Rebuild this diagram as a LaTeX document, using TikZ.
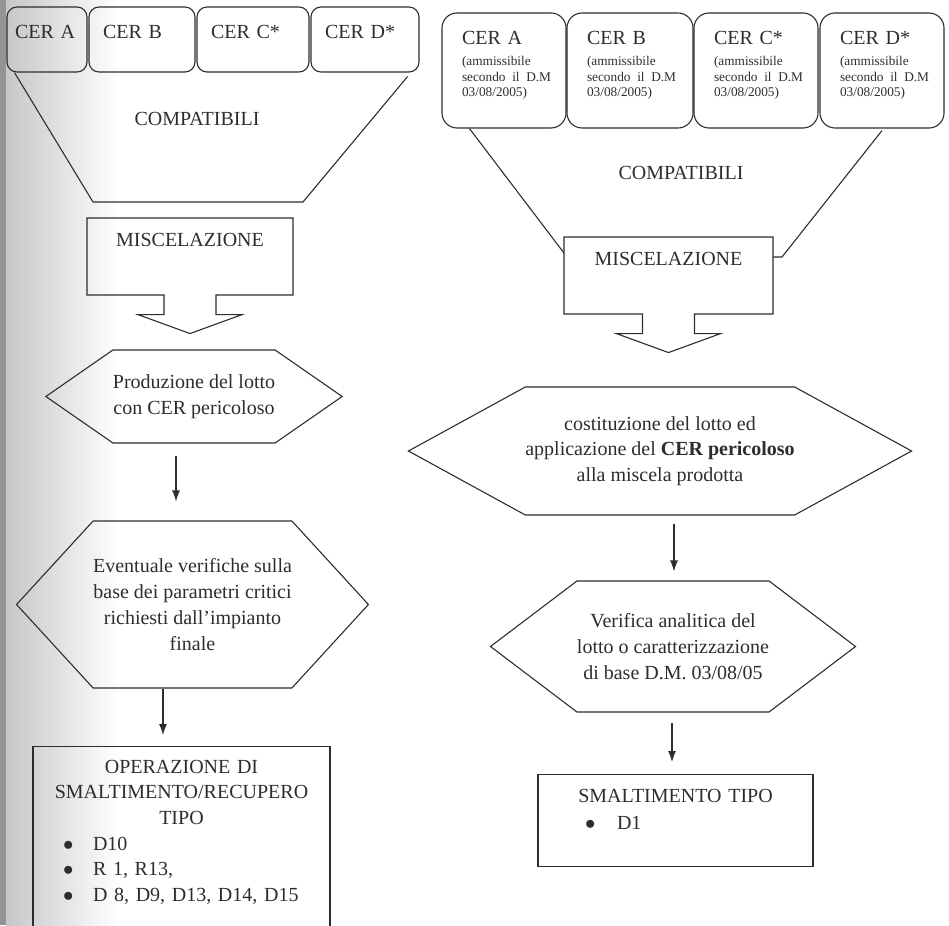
\documentclass[tikz,border=0pt]{standalone}
\usepackage{fontspec}
\setmainfont{Liberation Serif}
\usetikzlibrary{shapes.symbols,shapes.arrows,arrows.meta}
\definecolor{InkGray}{RGB}{45,45,45}
\newcommand{\ammdm}{{\fontsize{13.3}{15.5}\selectfont
    \begin{tabular}[t]{@{}l@{}}(ammissibile\\secondo il D.M\\03/08/2005)\end{tabular}}}
\newcommand{\opbullet}{\hspace*{30pt}\makebox[30pt][l]{$\bullet$}}

\begin{document}
\begin{tikzpicture}[x=1pt,y=-1pt,line width=1.1pt,color=InkGray,font=\fontsize{20}{25.7}\selectfont]
\tikzstyle{cerbox} = [rectangle, draw, rounded corners=10pt, inner xsep=14pt, inner ysep=0pt,
    align=left, text height=31.6pt, text depth=33.4pt]
\tikzstyle{cerbig} = [rectangle, draw, rounded corners=15pt, inner xsep=20pt, inner ysep=0pt,
    align=left, text height=32pt, text depth=83pt]
\tikzstyle{mixbox} = [arrow box, draw, arrow box arrows={south:38pt from border},
    arrow box shaft width=52pt, arrow box head extend=26pt, arrow box head indent=0pt,
    arrow box tip angle=140, inner ysep=0pt, text height=28.5pt, text depth=48.5pt]
\tikzstyle{hexa} = [signal, signal to=east and west, draw, align=center, inner sep=0pt]
\tikzstyle{endbox} = [rectangle, draw, inner sep=0pt, align=left, anchor=north]
\tikzstyle{line} = [draw, -{Latex[length=11pt,width=8pt]}]

\useasboundingbox (0,0) rectangle (949,925);
\clip (0,0) rectangle (949,925);
% binding shadow of the scan
\fill [black!42] (0,0) rectangle (6,925);
\shade [left color=black!22, right color=white] (6,0) rectangle (118,925);

% left: CER boxes
\node [cerbox, inner xsep=8pt, text width=64pt] (lA) at (47,39.5) {CER~A};
\node [cerbox, right of=lA, node distance=95pt, text width=78pt] (lB) {CER~B};
\node [cerbox, right of=lB, node distance=111pt, text width=84pt] (lC) {CER~C*};
\node [cerbox, right of=lC, node distance=112pt, text width=80pt] (lD) {CER~D*};
\coordinate (lf1) at ([xshift=8pt]lA.south west);
\coordinate (lf2) at (93,202);
\coordinate (lf3) at (303,202);
\coordinate (lf4) at ([xshift=-12pt,yshift=-4pt]lD.south east);
\draw (lf1) -- (lf2) -- (lf3) -- (lf4);
\node (lcomp) at (197,119) {COMPATIBILI};
%
\node [mixbox, minimum width=206pt] (lmix) at (190,256.5) {MISCELAZIONE};
\node [hexa, below of=lmix, node distance=140pt, xshift=4pt, minimum width=280pt,
    minimum height=93pt, signal pointer angle=69.5] (lhex1) {Produzione del lotto\\con CER pericoloso};
\node [hexa, below of=lhex1, node distance=208pt, xshift=-1.5pt, minimum width=329pt,
    minimum height=167pt, signal pointer angle=95] (lhex2)
    {Eventuale verifiche sulla\\base dei parametri critici\\richiesti dall'impianto\\finale};
\node [endbox, text width=297pt, text height=26.5pt, text depth=170pt] (lop) at (181.5,746)
    {{\centering OPERAZIONE DI\\SMALTIMENTO/RECUPERO\\TIPO\par}
    \opbullet D10\\
    \opbullet R 1, R13,\\
    \opbullet D 8, D9, D13, D14, D15};
\path [line] ([xshift=-18pt,yshift=-12pt]lhex1.south) -- ([xshift=-16.5pt,yshift=19pt]lhex2.north);
\path [line] ([xshift=-29.5pt]lhex2.south) -- ([xshift=-18.5pt,yshift=11pt]lop.north);

% right: CER boxes
\node [cerbig, text width=84pt] (rA) at (504,70.5) {CER~A\\[-4.7pt]\ammdm};
\node [cerbig, right of=rA, node distance=126pt, text width=86pt] (rB) {CER~B\\[-4.7pt]\ammdm};
\node [cerbig, right of=rB, node distance=126pt, text width=84pt] (rC) {CER~C*\\[-4.7pt]\ammdm};
\node [cerbig, right of=rC, node distance=126pt, text width=84pt] (rD) {CER~D*\\[-4.7pt]\ammdm};
\coordinate (rf1) at ([xshift=28pt]rA.south west);
\coordinate (rf2) at (567,257);
\coordinate (rf3) at (782,257);
\coordinate (rf4) at ([yshift=-2pt]rD.south);
\draw (rf1) -- (rf2) -- (rf3) -- (rf4);
\node (rcomp) at (681,173) {COMPATIBILI};
%
\node [mixbox, fill=white, minimum width=209pt] (rmix) at (668.5,275.5) {MISCELAZIONE};
\node [hexa, minimum width=476pt, minimum height=128pt, signal pointer angle=57.4] (rhex1) at (660,451)
    {costituzione del lotto ed\\applicazione del \textbf{CER pericoloso}\\alla miscela prodotta};
\node [hexa, below of=rhex1, node distance=195.5pt, xshift=13pt, minimum width=352pt,
    minimum height=131pt, signal pointer angle=74.3] (rhex2)
    {Verifica analitica del\\lotto o caratterizzazione\\di base D.M. 03/08/05};
\node [endbox, text width=275pt, text height=27.5pt, text depth=64.5pt] (rsmalt) at (675.5,774)
    {{\centering SMALTIMENTO TIPO\par}\vspace{2pt}
    \hspace*{47pt}\makebox[32pt][l]{$\bullet$}D1};
\path [line] ([xshift=14pt,yshift=-8pt]rhex1.south) -- ([xshift=1pt,yshift=9pt]rhex2.north);
\path [line] ([xshift=-1pt,yshift=-10pt]rhex2.south) -- ([xshift=-3.5pt,yshift=12pt]rsmalt.north);

\end{tikzpicture}
\end{document}
